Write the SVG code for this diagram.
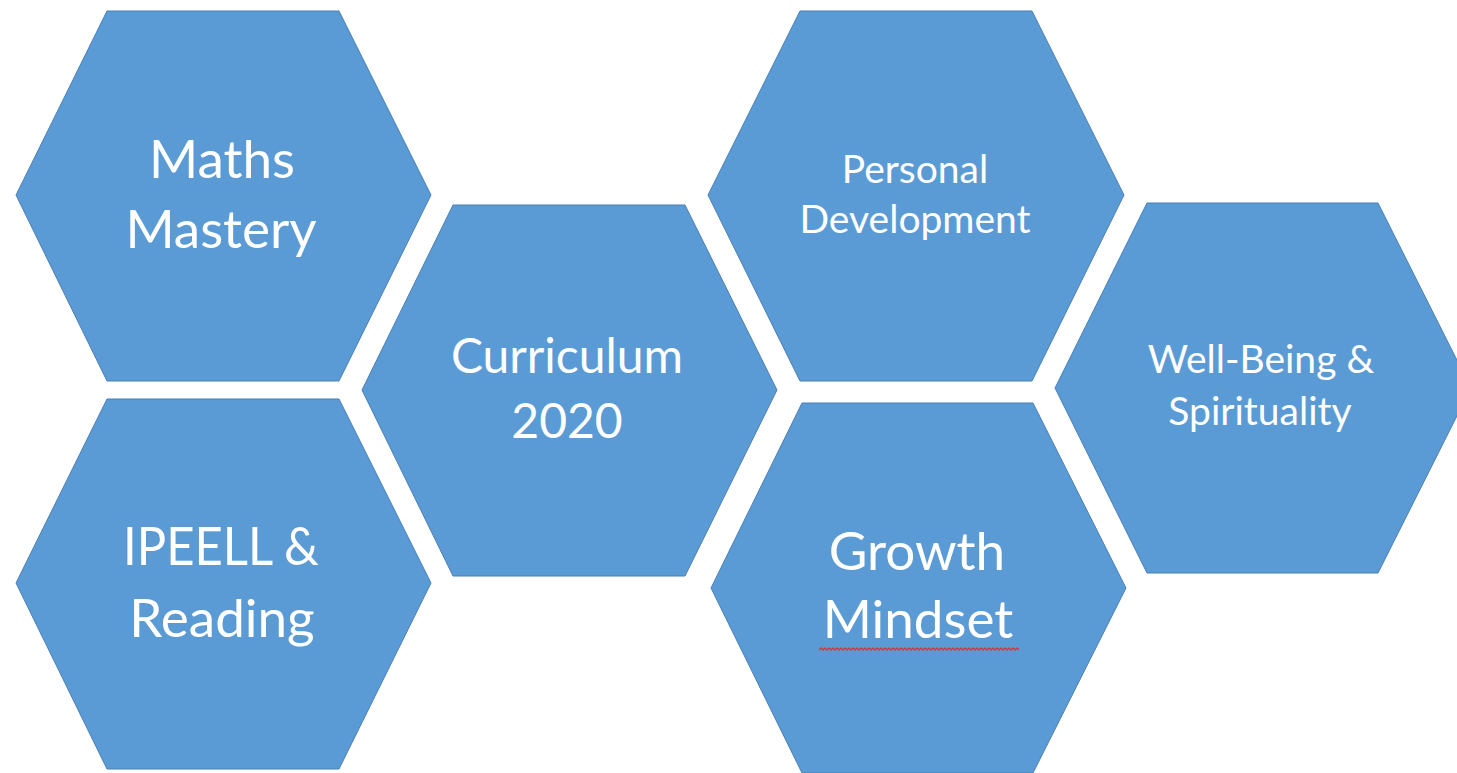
<svg xmlns="http://www.w3.org/2000/svg" width="1457" height="773" viewBox="0 0 1457 773">
<style>
.hex{fill:#5B9BD5;stroke:#4A7FB5;stroke-width:1}
.t{fill:#ffffff;font-family:Lato,"Open Sans",sans-serif;text-anchor:middle}
.big{font-size:53px}
.mid{font-size:48px}
.sm{font-size:39px}
.squig{fill:none;stroke:#E0303C;stroke-width:1.3}
</style>
<rect width="1457" height="773" fill="#ffffff"/>
<g id="maths-mastery">
<polygon class="hex" points="107,11 339,11 431,195 339,381 107,381 16,195"/>
<text class="t big" x="222" y="178">Maths</text>
<text class="t big" x="221" y="248">Mastery</text>
</g>
<g id="ipeell-reading">
<polygon class="hex" points="107,399 339,399 431,583 339,769 107,769 16,583"/>
<text class="t big" x="221" y="565" textLength="196" lengthAdjust="spacingAndGlyphs">IPEELL &amp;</text>
<text class="t big" x="222" y="637">Reading</text>
</g>
<g id="curriculum-2020">
<polygon class="hex" points="453,205 685,205 777,390 685,576 453,576 362,390"/>
<text class="t mid" x="567" y="373">Curriculum</text>
<text class="t mid" x="567" y="438">2020</text>
</g>
<g id="personal-development">
<polygon class="hex" points="800,11 1032,11 1124,195 1032,381 800,381 708,195"/>
<text class="t sm" x="915" y="183">Personal</text>
<text class="t sm" x="915" y="233">Development</text>
</g>
<g id="growth-mindset">
<polygon class="hex" points="802,403 1033,403 1126,588 1033,773 802,773 711,588"/>
<text class="t big" x="917" y="570">Growth</text>
<text class="t big" x="918" y="638">Mindset</text>
<path class="squig" d="M819,650 l2,-2 l2,2 l2,-2 l2,2 l2,-2 l2,2 l2,-2 l2,2 l2,-2 l2,2 l2,-2 l2,2 l2,-2 l2,2 l2,-2 l2,2 l2,-2 l2,2 l2,-2 l2,2 l2,-2 l2,2 l2,-2 l2,2 l2,-2 l2,2 l2,-2 l2,2 l2,-2 l2,2 l2,-2 l2,2 l2,-2 l2,2 l2,-2 l2,2 l2,-2 l2,2 l2,-2 l2,2 l2,-2 l2,2 l2,-2 l2,2 l2,-2 l2,2 l2,-2 l2,2 l2,-2 l2,2 l2,-2 l2,2 l2,-2 l2,2 l2,-2 l2,2 l2,-2 l2,2 l2,-2 l2,2 l2,-2 l2,2 l2,-2 l2,2 l2,-2 l2,2 l2,-2 l2,2 l2,-2 l2,2 l2,-2 l2,2 l2,-2 l2,2 l2,-2 l2,2 l2,-2 l2,2 l2,-2 l2,2 l2,-2 l2,2 l2,-2 l2,2 l2,-2 l2,2 l2,-2 l2,2 l2,-2 l2,2 l2,-2 l2,2 l2,-2 l2,2 l2,-2 l2,2 l2,-2 l2,2 l2,-2 l2,2"/>
</g>
<g id="wellbeing-spirituality">
<polygon class="hex" points="1147,203 1378,203 1471,388 1378,573 1147,573 1055,388"/>
<text class="t sm" x="1261" y="373">Well-Being &amp;</text>
<text class="t sm" x="1260" y="425">Spirituality</text>
</g>
<g id="connectors"/>
</svg>
